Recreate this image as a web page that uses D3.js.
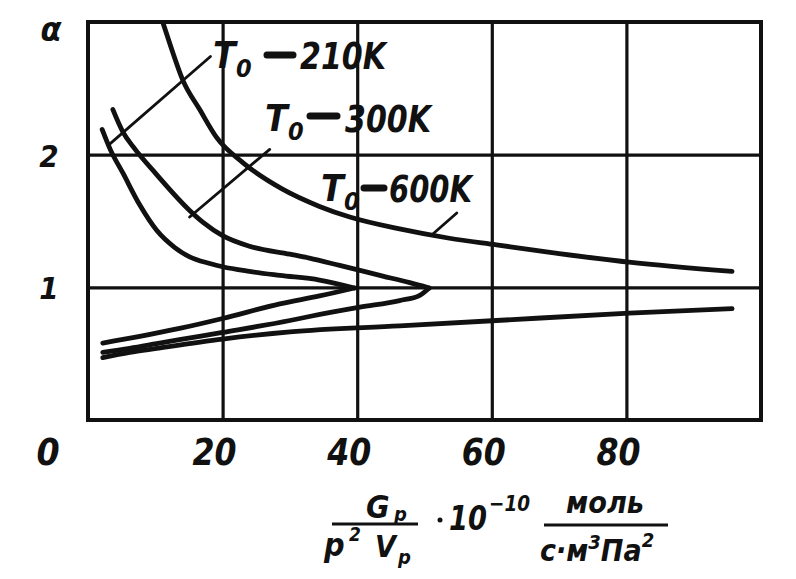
<!DOCTYPE html>
<html><head><meta charset="utf-8">
<script src="https://cdn.jsdelivr.net/npm/d3@7"></script>
<style>
html,body{margin:0;padding:0;background:#fff;}
text{font-family:"DejaVu Sans Condensed","Liberation Sans Narrow","DejaVu Sans",sans-serif;font-weight:bold;font-style:italic;fill:#111;}
</style></head>
<body>
<script>
// ---- data ----
const xTicks = [20, 40, 60, 80];
const yTicks = [1, 2];
const xTickLabels = ["20", "40", "60", "80"];
const yTickLabels = ["1", "2"];
// T0 = 210K : upper branch and lower branch meeting at the nose
const curve210Upper = [[2.1,2.19],[3.3,2.04],[5.2,1.86],[7.7,1.62],[10.2,1.43],[12.9,1.30],[15.1,1.23],[18.1,1.18],[20,1.155],[24,1.12],[28.5,1.09],[34.4,1.055],[39.6,0.995]];
const curve210Lower = [[2.2,0.58],[7.7,0.63],[13.6,0.69],[20,0.765],[28.5,0.875],[34.4,0.935],[39.6,0.995]];
// T0 = 300K
const curve300Upper = [[3.7,2.34],[5.2,2.17],[6.7,2.06],[10.2,1.85],[15.1,1.58],[17.1,1.49],[20,1.39],[24,1.31],[30,1.25],[32.9,1.22],[37.4,1.165],[43.8,1.085],[47.8,1.035],[50.7,0.995]];
const curve300Lower = [[2.2,0.51],[6.2,0.54],[10.2,0.575],[13.6,0.605],[20,0.66],[30,0.75],[32.9,0.78],[40.4,0.85],[46.3,0.9],[49.3,0.94],[50.7,0.995]];
// T0 = 600K : two branches, no nose in range
const curve600Upper = [[11.1,3.0],[12.2,2.83],[14.1,2.56],[16.6,2.34],[19.1,2.13],[23,1.94],[28.9,1.74],[34.4,1.61],[38.9,1.53],[46.3,1.44],[53.7,1.37],[60.7,1.32],[70,1.255],[80.4,1.19],[95.7,1.12]];
const curve600Lower = [[2.2,0.47],[6.2,0.51],[10.2,0.54],[20,0.61],[30,0.665],[46.3,0.71],[60.7,0.75],[80.4,0.805],[95.7,0.84]];
const seriesLabels = ["210K", "300K", "600K"];

// ---- chart ----
const W = 796, H = 579;
const svg = d3.select("body").append("svg").attr("width", W).attr("height", H);
svg.append("rect").attr("width", W).attr("height", H).attr("fill", "#fff");

const x = d3.scaleLinear().domain([0, 100]).range([88, 761]);
const y = d3.scaleLinear().domain([0, 3]).range([420, 22]);
const ink = "#111";

// grid via axes
const gx = svg.append("g").attr("transform", `translate(0,${y(0)})`)
  .call(d3.axisBottom(x).tickValues(xTicks).tickSize(-(y(0) - y(3))).tickFormat(""));
const gy = svg.append("g").attr("transform", `translate(${x(0)},0)`)
  .call(d3.axisLeft(y).tickValues(yTicks).tickSize(-(x(100) - x(0))).tickFormat(""));
[gx, gy].forEach(g => {
  g.select(".domain").remove();
  g.selectAll(".tick line").attr("stroke", ink).attr("stroke-width", 3.2);
});

// frame
svg.append("rect").attr("x", x(0)).attr("y", y(3)).attr("width", x(100) - x(0)).attr("height", y(0) - y(3))
  .attr("fill", "none").attr("stroke", ink).attr("stroke-width", 4);

// curves
const line = d3.line().x(d => x(d[0])).y(d => y(d[1])).curve(d3.curveMonotoneX);
svg.append("clipPath").attr("id", "c").append("rect")
  .attr("x", x(0)).attr("y", y(3)).attr("width", x(100) - x(0)).attr("height", y(0) - y(3));
const cg = svg.append("g").attr("clip-path", "url(#c)");
[curve210Upper, curve210Lower, curve300Upper, curve300Lower, curve600Upper, curve600Lower].forEach(c => {
  cg.append("path").attr("d", line(c)).attr("fill", "none").attr("stroke", ink)
    .attr("stroke-width", 4.8).attr("stroke-linejoin", "round").attr("stroke-linecap", "round");
});

// leader lines (label anchors in data units)
const leaders = [[[18.2, 2.74], [3.0, 2.07]], [[27.0, 2.04], [15.1, 1.53]], [[54.8, 1.56], [51.2, 1.40]]];
leaders.forEach(l => {
  svg.append("line").attr("x1", x(l[0][0])).attr("y1", y(l[0][1])).attr("x2", x(l[1][0])).attr("y2", y(l[1][1]))
    .attr("stroke", ink).attr("stroke-width", 2.8).attr("stroke-linecap", "round");
});

// series labels "T0 = ...K"
const labelPos = [{tx: 213, by: 68, dash: [267, 293, 55], num: 300, nl: 86},
                  {tx: 265, by: 131, dash: [310, 337, 116], num: 345, nl: 86},
                  {tx: 321, by: 201, dash: [364, 384, 188], num: 389, nl: 83}];
labelPos.forEach((p, i) => {
  svg.append("text").attr("x", p.tx).attr("y", p.by).attr("font-size", 37).text("T");
  svg.append("text").attr("x", p.tx + 23).attr("y", p.by + 9).attr("font-size", 25).text("0");
  svg.append("line").attr("x1", p.dash[0]).attr("x2", p.dash[1]).attr("y1", p.dash[2]).attr("y2", p.dash[2])
    .attr("stroke", ink).attr("stroke-width", 7).attr("stroke-linecap", "round");
  svg.append("text").attr("x", p.num).attr("y", p.by + 1).attr("font-size", 37)
    .attr("textLength", p.nl).attr("lengthAdjust", "spacingAndGlyphs").text(seriesLabels[i]);
});

// tick labels
xTicks.forEach((v, i) => {
  svg.append("text").attr("x", x(v) - 8).attr("y", 465).attr("text-anchor", "middle")
    .attr("font-size", 37).attr("textLength", 44).attr("lengthAdjust", "spacingAndGlyphs").text(xTickLabels[i]);
});
yTicks.forEach((v, i) => {
  svg.append("text").attr("x", 49).attr("y", y(v) + 12).attr("text-anchor", "middle")
    .attr("font-size", 31).text(yTickLabels[i]);
});
svg.append("text").attr("x", 48).attr("y", 465).attr("text-anchor", "middle").attr("font-size", 37).text("0");
svg.append("text").attr("x", 51).attr("y", 41).attr("text-anchor", "middle").attr("font-size", 34).text("α");

// axis title
const t = svg.append("g");
t.append("text").attr("x", 366).attr("y", 518).attr("font-size", 32).text("G");
t.append("text").attr("x", 394).attr("y", 521).attr("font-size", 20).text("p");
t.append("line").attr("x1", 332).attr("x2", 418).attr("y1", 524).attr("y2", 524).attr("stroke", ink).attr("stroke-width", 3);
t.append("text").attr("x", 324).attr("y", 556).attr("font-size", 32).text("p");
t.append("text").attr("x", 349).attr("y", 541).attr("font-size", 19).text("2");
t.append("text").attr("x", 375).attr("y", 557).attr("font-size", 30).text("V");
t.append("text").attr("x", 398).attr("y", 564).attr("font-size", 20).text("p");
t.append("circle").attr("cx", 440).attr("cy", 520).attr("r", 2.5).attr("fill", ink);
t.append("text").attr("x", 449).attr("y", 530).attr("font-size", 34).attr("textLength", 38).attr("lengthAdjust", "spacingAndGlyphs").text("10");
t.append("text").attr("x", 489).attr("y", 511).attr("font-size", 22).attr("textLength", 41).attr("lengthAdjust", "spacingAndGlyphs").text("−10");
t.append("text").attr("x", 566).attr("y", 513).attr("font-size", 30).attr("textLength", 78).attr("lengthAdjust", "spacingAndGlyphs").text("моль");
t.append("line").attr("x1", 544).attr("x2", 668).attr("y1", 525).attr("y2", 525).attr("stroke", ink).attr("stroke-width", 3);
const den = t.append("text").attr("x", 540).attr("y", 561).attr("font-size", 30);
den.append("tspan").text("с·м");
den.append("tspan").attr("font-size", 20).attr("dy", -12).text("3");
den.append("tspan").attr("dy", 12).text("Па");
den.append("tspan").attr("font-size", 20).attr("dy", -14).text("2");
</script>
</body></html>
